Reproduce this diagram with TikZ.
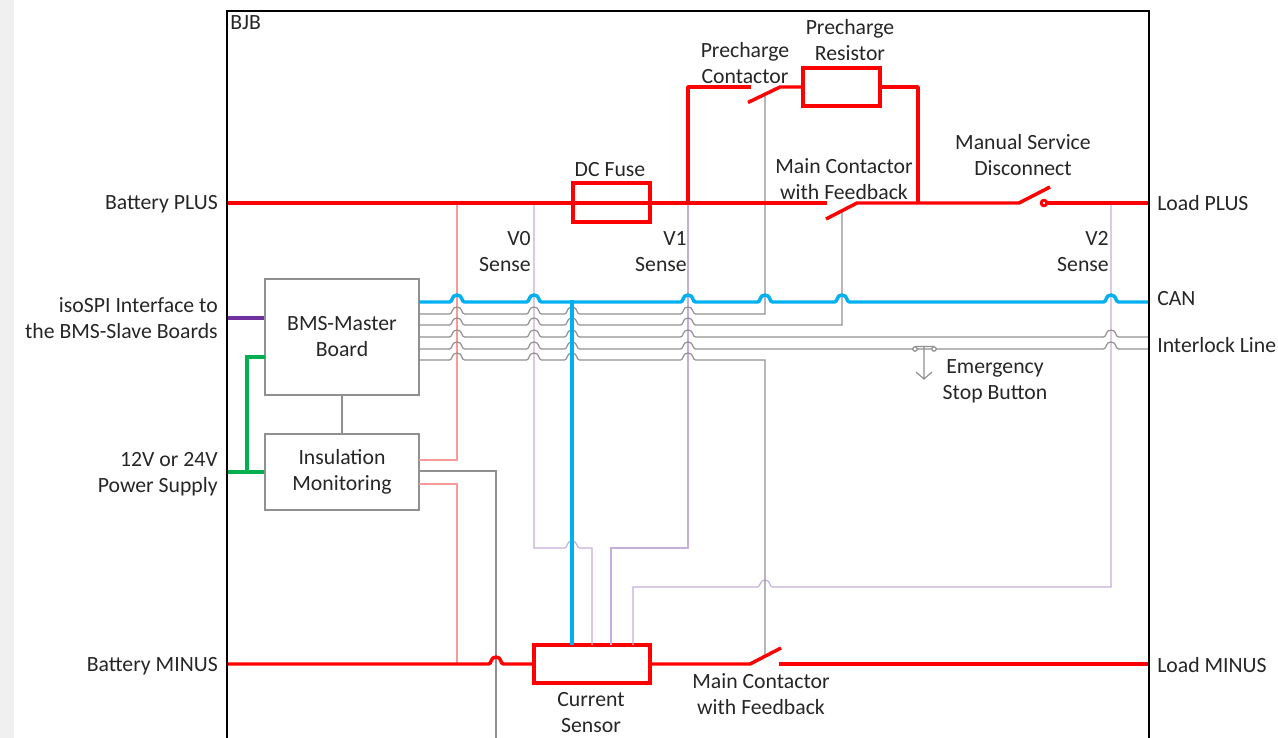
\documentclass[tikz,border=0pt]{standalone}
\usepackage{fontspec}
\setmainfont{Carlito}
\definecolor{wred}{HTML}{FF0000}
\definecolor{lred}{HTML}{F79A9A}
\definecolor{wblue}{HTML}{00B0F0}
\definecolor{wgreen}{HTML}{00B050}
\definecolor{wviolet}{HTML}{7030A0}
\definecolor{lviolet}{HTML}{C5ADDC}
\definecolor{wgrey}{HTML}{909090}
\definecolor{tcol}{HTML}{262626}
\newcommand{\hp}[2]{-- (#1-7.5,#2) .. controls (#1-4,#2) and (#1-6,#2-7) .. (#1,#2-7) .. controls (#1+6,#2-7) and (#1+4,#2) .. (#1+7.5,#2)}
\newcommand{\hprev}[2]{-- (#1+7.5,#2) .. controls (#1+4,#2) and (#1+6,#2-7) .. (#1,#2-7) .. controls (#1-6,#2-7) and (#1-4,#2) .. (#1-7.5,#2)}
\tikzset{
  power/.style={draw=wred,line width=2.6pt,line join=round},
  bus/.style={draw=wblue,line width=2.6pt},
  sense/.style={draw=lviolet,line width=0.9pt},
  signal/.style={draw=wgrey,line width=0.9pt},
  iso/.style={draw=lred,line width=0.9pt},
  supply/.style={draw=wgreen,line width=2.6pt},
  spi/.style={draw=wviolet,line width=2.6pt},
  blockbox/.style={draw=wgrey,line width=0.9pt,inner sep=0pt,minimum width=115.5pt,text=tcol,font=\fontsize{16.3}{19.5}\selectfont,align=center},
  redbox/.style={draw=wred,line width=2.6pt,inner sep=0pt},
  lbl/.style={text=tcol,font=\fontsize{16.3}{19.5}\selectfont,align=center,inner sep=0pt},
  lbll/.style={lbl,align=right,anchor=east},
  lblr/.style={lbl,align=left,anchor=west},
}
\begin{document}
\begin{tikzpicture}[x=0.75pt,y=-0.75pt]
\useasboundingbox (0,0) rectangle (1278,738);
\fill[black!6] (0,0) rectangle (14,738);
% blocks
\node[blockbox,minimum height=87pt] (bms) at (342,337) {BMS-Master\\Board};
\node[blockbox,minimum height=57pt] (ins) at (342,472) {Insulation\\Monitoring};
\node[redbox,minimum width=57.75pt,minimum height=29pt] (fuse) at (611.5,202.5) {};
\node[redbox,minimum width=57.75pt,minimum height=28.5pt] (res) at (841.5,87) {};
\node[redbox,minimum width=87pt,minimum height=28.5pt] (cs) at (592,664) {};
% frame corners and free ends
\coordinate (fbl) at (227,738); \coordinate (ftl) at (227,11);
\coordinate (ftr) at (1149,11); \coordinate (fbr) at (1149,738);
\coordinate (bplus) at (227,203); \coordinate (lplus) at (1149,203);
\coordinate (bminus) at (227,664); \coordinate (lminus) at (1149,664);
\coordinate (can) at (1149,302);
\coordinate (il1) at (1149,337); \coordinate (il2) at (1149,349);
\coordinate (spit) at (227,318); \coordinate (pwr) at (227,472);
\coordinate (gnd) at (496,738);
\coordinate (canout) at (419,302);
\coordinate (s1) at (419,314); \coordinate (s2) at (419,325);
\coordinate (s3) at (419,337); \coordinate (s4) at (419,349);
\coordinate (s5) at (419,360);
\coordinate (isoa) at (419,460); \coordinate (isob) at (419,484);
\coordinate (isoc) at (419,471);
\coordinate (pcblade) at (765,95); \coordinate (mcblade) at (842,211);
\coordinate (mmblade) at (765,656);
\coordinate (csa) at (592,645); \coordinate (csb) at (611,645);
\coordinate (csc) at (633,645); \coordinate (csd) at (572,645);
\coordinate (v0) at (534,203); \coordinate (v1) at (688,203);
\coordinate (v2) at (1111,203); \coordinate (ip) at (457,203);
\coordinate (im) at (457,664);
\coordinate (j) at (572,300);
\coordinate (gj) at (247,472); \coordinate (gk) at (265,357);
% thin wires
\draw[iso] (ip) -- (457,460) -- (isoa);
\draw[iso] (isob) -- (457,484) -- (im);
\draw[sense] (v0) -- (534,548) \hp{572}{548} -- (592,548) -- (csa);
\draw[sense] (v1) -- (688,548) -- (611,548) -- (csb);
\draw[sense] (v2) -- (1111,587) \hprev{765}{587} -- (633,587) -- (csc);
\draw[signal] (isoc) -- (496,471) -- (gnd);
\draw[signal] (bms) -- (ins);
\draw[signal] (s1) \hp{457}{314} \hp{534}{314} \hp{572}{314} \hp{688}{314} -- (765,314) -- (pcblade);
\draw[signal] (s2) \hp{457}{325} \hp{534}{325} \hp{572}{325} \hp{688}{325} -- (842,325) -- (mcblade);
\draw[signal] (s3) \hp{457}{337} \hp{534}{337} \hp{572}{337} \hp{688}{337} \hp{1111}{337} -- (il1);
\draw[signal] (s4) \hp{457}{349} \hp{534}{349} \hp{572}{349} \hp{688}{349} \hp{1111}{349} -- (il2);
\draw[signal] (s5) \hp{457}{360} \hp{534}{360} \hp{572}{360} \hp{688}{360} -- (765,360) -- (mmblade);
% emergency stop
\coordinate (est) at (924,346); \coordinate (esb) at (924,379);
\draw[signal,fill=white] (915,349) circle[radius=2.2] (934,349) circle[radius=2.2];
\draw[signal] (915,346.5) -- (934,346.5) (est) -- (esb) (916,372) -- (esb) -- (932,372);
% blue bus
\draw[bus] (canout) \hp{457}{302} \hp{534}{302} \hp{688}{302} \hp{765}{302} \hp{842}{302} \hp{1111}{302} -- (can);
\draw[bus] (j) -- (csd);
% supplies
\draw[spi] (spit) -- (spit-|bms.west);
\draw[supply] (pwr) -- (pwr-|ins.west);
\draw[supply] (gj) -- (247,357) -- (gk);
% power
\draw[power] (bplus) -- (827,203);
\draw[power] (826,219) -- (857,203) -- (1019,203) -- (1050,187);
\draw[power,line width=2.2pt] (1044,203) circle[radius=2.8];
\draw[power] (1046,203) -- (lplus);
\draw[power] (688,203) -- (688,87) -- (751,87);
\draw[power] (748,102.5) -- (780,87) -- (res.west);
\draw[power] (res.east) -- (918,87) -- (918,203);
\draw[power] (bminus) \hp{496}{664} -- (cs.west);
\draw[power] (cs.east) -- (750,664) -- (781,648);
\draw[power] (779,664) -- (lminus);
% frame
\draw[black,line width=1.7pt,line join=miter] (fbl) -- (ftl) -- (ftr) -- (fbr);
% labels
\node[lblr] (tbjb) at (230,23) {BJB};
\node[lbl] (t1) at (745,63) {Precharge\\Contactor};
\node[lbl] (t2) at (850,40) {Precharge\\Resistor};
\node[lbl] (t3) at (610,170) {DC Fuse};
\node[lbl] (t4) at (844,179) {Main Contactor\\with Feedback};
\node[lbl] (t5) at (1023,155) {Manual Service\\Disconnect};
\node[lbll] (t6) at (531,252) {V0\\Sense};
\node[lbll] (t7) at (687,252) {V1\\Sense};
\node[lbll] (t8) at (1109,252) {V2\\Sense};
\node[lbll] (t9) at (218,204) {Battery PLUS};
\node[lbll] (t10) at (218,318) {isoSPI Interface to\\the BMS-Slave Boards};
\node[lbll] (t11) at (218,474) {12V or 24V\\Power Supply};
\node[lbll] (t12) at (218,666) {Battery MINUS};
\node[lblr] (t13) at (1157,203) {Load PLUS};
\node[lblr] (t14) at (1157,299) {CAN};
\node[lblr] (t15) at (1157,345) {Interlock Line};
\node[lblr] (t16) at (1157,665) {Load MINUS};
\node[lbl] (t17) at (995,381) {Emergency\\Stop Button};
\node[lbl] (t18) at (591,713) {Current\\Sensor};
\node[lbl] (t19) at (761,694) {Main Contactor\\with Feedback};
\end{tikzpicture}
\end{document}
